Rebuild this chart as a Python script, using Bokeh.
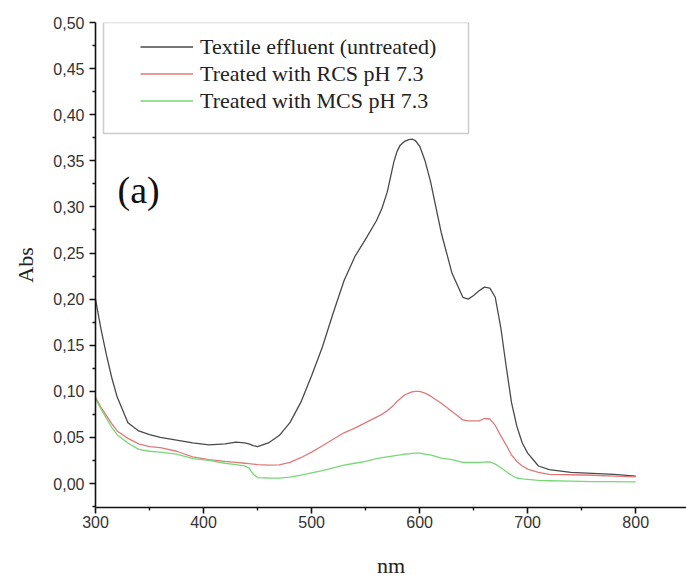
from bokeh.plotting import figure
from bokeh.models import (Range1d, Legend, LegendItem, BoxAnnotation, Label,
                          FixedTicker, CustomJSTickFormatter)
from bokeh.embed import file_html
from bokeh.resources import INLINE

# ---- data ----
wavelength = [300, 305, 310, 315, 320, 330, 340, 350, 360, 375,
              390, 405, 420, 430, 438, 442, 446, 450, 460, 470,
              480, 490, 500, 510, 520, 530, 540, 550, 560, 565,
              570, 573, 576, 579, 582, 586, 590, 593, 596, 600,
              605, 610, 620, 630, 640, 645, 650, 655, 660, 665,
              670, 675, 680, 685, 690, 695, 700, 710, 720, 740,
              760, 780, 800]

untreated = [0.200, 0.168, 0.140, 0.115, 0.094, 0.066, 0.057, 0.053, 0.050, 0.047,
             0.044, 0.042, 0.043, 0.045, 0.044, 0.043, 0.041, 0.040, 0.044, 0.052,
             0.066, 0.088, 0.117, 0.148, 0.185, 0.220, 0.246, 0.265, 0.285, 0.298,
             0.316, 0.332, 0.348, 0.360, 0.367, 0.371, 0.373, 0.3735, 0.372, 0.366,
             0.350, 0.328, 0.272, 0.228, 0.202, 0.200, 0.204, 0.209, 0.213, 0.212,
             0.202, 0.170, 0.128, 0.088, 0.062, 0.044, 0.033, 0.019, 0.015, 0.012,
             0.011, 0.010, 0.008]

rcs = [0.0935, 0.083, 0.074, 0.065, 0.057, 0.049, 0.043, 0.040, 0.039, 0.035,
       0.029, 0.026, 0.024, 0.023, 0.022, 0.0215, 0.021, 0.0205, 0.020, 0.0203,
       0.023, 0.028, 0.034, 0.041, 0.048, 0.055, 0.060, 0.066, 0.072, 0.075,
       0.079, 0.082, 0.085, 0.089, 0.092, 0.096, 0.098, 0.0995, 0.100, 0.100,
       0.098, 0.095, 0.087, 0.078, 0.069, 0.068, 0.068, 0.068, 0.0705, 0.070,
       0.063, 0.052, 0.042, 0.031, 0.024, 0.019, 0.0156, 0.012, 0.010, 0.0095,
       0.009, 0.008, 0.0073]

mcs = [0.092, 0.081, 0.071, 0.061, 0.053, 0.044, 0.037, 0.035, 0.034, 0.032,
       0.027, 0.025, 0.022, 0.0205, 0.0192, 0.017, 0.010, 0.0065, 0.006, 0.0058,
       0.007, 0.009, 0.0115, 0.014, 0.017, 0.020, 0.022, 0.024, 0.027, 0.028,
       0.029, 0.0295, 0.030, 0.0305, 0.031, 0.032, 0.0322, 0.0326, 0.033, 0.033,
       0.032, 0.031, 0.0275, 0.026, 0.023, 0.0228, 0.0228, 0.023, 0.0232, 0.0235,
       0.021, 0.0174, 0.013, 0.009, 0.006, 0.005, 0.0045, 0.0035, 0.003, 0.0025,
       0.002, 0.002, 0.0018]

series_labels = ["Textile effluent (untreated)",
                 "Treated with RCS pH 7.3",
                 "Treated with MCS pH 7.3"]
series_colors = ["#4a4a4a", "#e07a7a", "#78d878"]

x_major = [300, 400, 500, 600, 700, 800]
x_minor = [350, 450, 550, 650, 750, 850]
y_major = [0.0, 0.05, 0.10, 0.15, 0.20, 0.25, 0.30, 0.35, 0.40, 0.45, 0.50]
y_minor = [-0.025, 0.025, 0.075, 0.125, 0.175, 0.225, 0.275, 0.325, 0.375, 0.425, 0.475]

# ---- figure ----
p = figure(width=686, height=580, output_backend="svg", toolbar_location=None,
           x_range=Range1d(300, 847), y_range=Range1d(-0.026, 0.5),
           min_border_left=95, min_border_right=0, min_border_top=22,
           min_border_bottom=73)
p.outline_line_color = None
p.xgrid.visible = False
p.ygrid.visible = False
p.background_fill_color = "white"
p.border_fill_color = "white"

renderers = []
for ys, col in zip([untreated, rcs, mcs], series_colors):
    r = p.line(wavelength, ys, line_color=col, line_width=1.3,
               line_join="round")
    renderers.append(r)

# axes
p.xaxis.ticker = FixedTicker(ticks=x_major, minor_ticks=x_minor)
p.yaxis.ticker = FixedTicker(ticks=y_major, minor_ticks=y_minor)
p.yaxis.formatter = CustomJSTickFormatter(code="return tick.toFixed(2).replace('.', ',');")

for ax in (p.xaxis, p.yaxis):
    ax.axis_line_width = 1.6
    ax.axis_line_color = "#111111"
    ax.major_tick_line_width = 1.6
    ax.major_tick_line_color = "#111111"
    ax.minor_tick_line_width = 1.4
    ax.minor_tick_line_color = "#111111"
    ax.major_tick_out = 6
    ax.major_tick_in = 0
    ax.minor_tick_out = 3
    ax.minor_tick_in = 0
    ax.major_label_text_font = "Liberation Sans"
    ax.major_label_text_font_size = "16px"
    ax.major_label_text_color = "#333333"
    ax.axis_label_text_font = "Liberation Serif"
    ax.axis_label_text_font_size = "22px"
    ax.axis_label_text_font_style = "normal"
    ax.axis_label_text_color = "#222222"

p.xaxis.axis_label = "nm"
p.yaxis.axis_label = "Abs"
p.xaxis.major_label_standoff = 2
p.xaxis.axis_label_standoff = 22
p.yaxis.major_label_standoff = 5
p.yaxis.axis_label_standoff = 12

# legend box
box = BoxAnnotation(left=8, right=373, bottom=374, top=485,
                    left_units="screen", right_units="screen",
                    top_units="screen", bottom_units="screen",
                    fill_alpha=0, line_color="#555555", line_width=1.5)
p.add_layout(box)

legend = Legend(items=[LegendItem(label=lab, renderers=[r])
                       for lab, r in zip(series_labels, renderers)],
                location=(45, 393))
legend.padding = 0
legend.spacing = 0
legend.margin = 0
legend.label_height = 27
legend.glyph_height = 27
legend.glyph_width = 53
legend.label_standoff = 7
legend.label_text_font = "Liberation Serif"
legend.label_text_font_size = "22px"
legend.label_text_color = "#222222"
legend.border_line_alpha = 0
legend.background_fill_alpha = 0
p.add_layout(legend)

tag = Label(x=22, y=318, x_units="screen", y_units="screen", text="(a)",
            text_font="Liberation Serif", text_font_size="38px",
            text_baseline="middle", text_color="#111111")
p.add_layout(tag)

open("out.html", "w").write(file_html(p, INLINE))
